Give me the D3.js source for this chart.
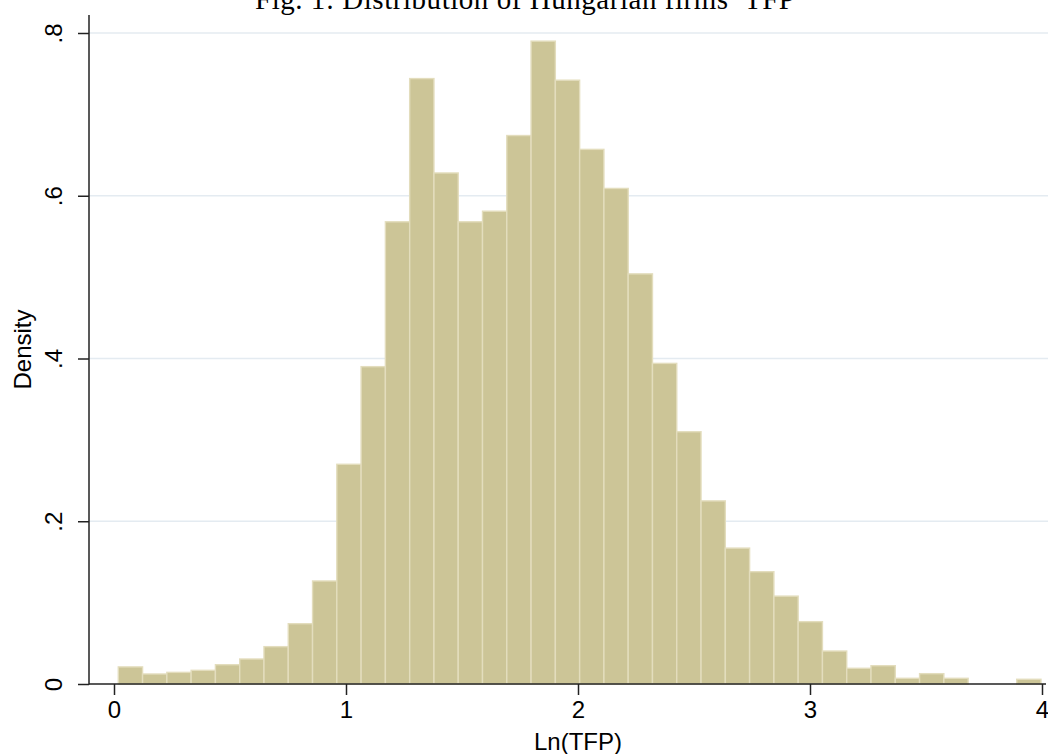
<!DOCTYPE html>
<html>
<head>
<meta charset="utf-8">
<script src="https://cdn.jsdelivr.net/npm/d3@7"></script>
<style>
  html, body { margin: 0; padding: 0; background: #ffffff; }
  svg { display: block; }
</style>
</head>
<body>
<svg id="chart" width="1048" height="754"></svg>
<script>
// ---- Data ----
const binStart = 0.0185;          // left edge of first bin, Ln(TFP)
const binWidth = 0.10466;         // width of each bin
const densities = [
  0.021, 0.0123, 0.0143, 0.0168, 0.0237, 0.0307, 0.0459, 0.0741, 0.1266, 0.270,
  0.390, 0.568, 0.744, 0.628, 0.568, 0.581, 0.674, 0.790, 0.742, 0.657,
  0.609, 0.504, 0.394, 0.310, 0.225, 0.167, 0.138, 0.108, 0.0766, 0.0405,
  0.0193, 0.0225, 0.007, 0.0127, 0.007, 0, 0, 0.0058
];
const xTicks = [0, 1, 2, 3, 4];
const xTickLabels = ["0", "1", "2", "3", "4"];
const yTicks = [0, 0.2, 0.4, 0.6, 0.8];
const yTickLabels = ["0", ".2", ".4", ".6", ".8"];
const titleText = "Fig. 1: Distribution of Hungarian firms\u2019 TFP";
const xTitle = "Ln(TFP)";
const yTitle = "Density";

// ---- Layout ----
const svg = d3.select("#chart");
const plotLeft = 89, plotRight = 1046, plotTop = 15, plotBottom = 684;
const x = d3.scaleLinear().domain([0, 4]).range([114, 1042]);
const y = d3.scaleLinear().domain([0, 0.8]).range([684, 33]);

const bins = densities.map((d, i) => ({
  x0: binStart + i * binWidth,
  x1: binStart + (i + 1) * binWidth,
  d: d
}));

// gridlines
svg.append("g").selectAll("line")
  .data(yTicks.filter(t => t > 0))
  .join("line")
  .attr("x1", plotLeft).attr("x2", 1048)
  .attr("y1", d => y(d)).attr("y2", d => y(d))
  .attr("stroke", "#e4ebf1").attr("stroke-width", 1.6);

// bars
svg.append("g").selectAll("rect")
  .data(bins.filter(b => b.d > 0))
  .join("rect")
  .attr("x", b => x(b.x0))
  .attr("width", b => x(b.x1) - x(b.x0))
  .attr("y", b => y(b.d))
  .attr("height", b => y(0) - y(b.d))
  .attr("fill", "#ccc597")
  .attr("stroke", "#e3ddbd")
  .attr("stroke-width", 1.4);

// axes lines
svg.append("line")
  .attr("x1", plotLeft).attr("x2", plotLeft)
  .attr("y1", plotTop).attr("y2", plotBottom + 0.5)
  .attr("stroke", "#222").attr("stroke-width", 1.5);
svg.append("line")
  .attr("x1", plotLeft).attr("x2", plotRight)
  .attr("y1", plotBottom).attr("y2", plotBottom)
  .attr("stroke", "#222").attr("stroke-width", 1.5);

const font = "'Liberation Sans', Arial, Helvetica, sans-serif";

// x axis ticks & labels
const xAxis = d3.axisBottom(x).tickValues(xTicks)
  .tickFormat((d, i) => xTickLabels[i]).tickSize(11).tickPadding(6);
const gx = svg.append("g").attr("transform", `translate(0,${plotBottom})`).call(xAxis);
gx.select(".domain").remove();
gx.selectAll(".tick line").attr("stroke", "#222").attr("stroke-width", 1.5);
gx.selectAll(".tick text").attr("font-family", font).attr("font-size", 24).attr("fill", "#000");

// y axis ticks & labels (rotated)
const yAxis = d3.axisLeft(y).tickValues(yTicks)
  .tickFormat((d, i) => yTickLabels[i]).tickSize(11).tickPadding(6);
const gy = svg.append("g").attr("transform", `translate(${plotLeft},0)`).call(yAxis);
gy.select(".domain").remove();
gy.selectAll(".tick line").attr("stroke", "#222").attr("stroke-width", 1.5);
gy.selectAll(".tick text")
  .attr("font-family", font).attr("font-size", 24).attr("fill", "#000")
  .attr("x", null).attr("dy", null)
  .attr("transform", "translate(-27,0) rotate(-90)")
  .attr("text-anchor", "middle")
  .attr("y", 0);

// axis titles
svg.append("text")
  .attr("x", x(2)).attr("y", 750)
  .attr("text-anchor", "middle")
  .attr("font-family", font).attr("font-size", 24).attr("fill", "#000")
  .text(xTitle);
svg.append("text")
  .attr("transform", `translate(31,${(plotTop + plotBottom) / 2}) rotate(-90)`)
  .attr("text-anchor", "middle")
  .attr("font-family", font).attr("font-size", 24).attr("fill", "#000")
  .text(yTitle);

// title (clipped at top in the reference)
svg.append("text")
  .attr("x", 525).attr("y", 9)
  .attr("text-anchor", "middle")
  .attr("font-family", "'Liberation Serif', 'DejaVu Serif', serif")
  .attr("font-size", 29).attr("fill", "#000")
  .attr("textLength", 540).attr("lengthAdjust", "spacing")
  .text(titleText);
</script>
</body>
</html>
